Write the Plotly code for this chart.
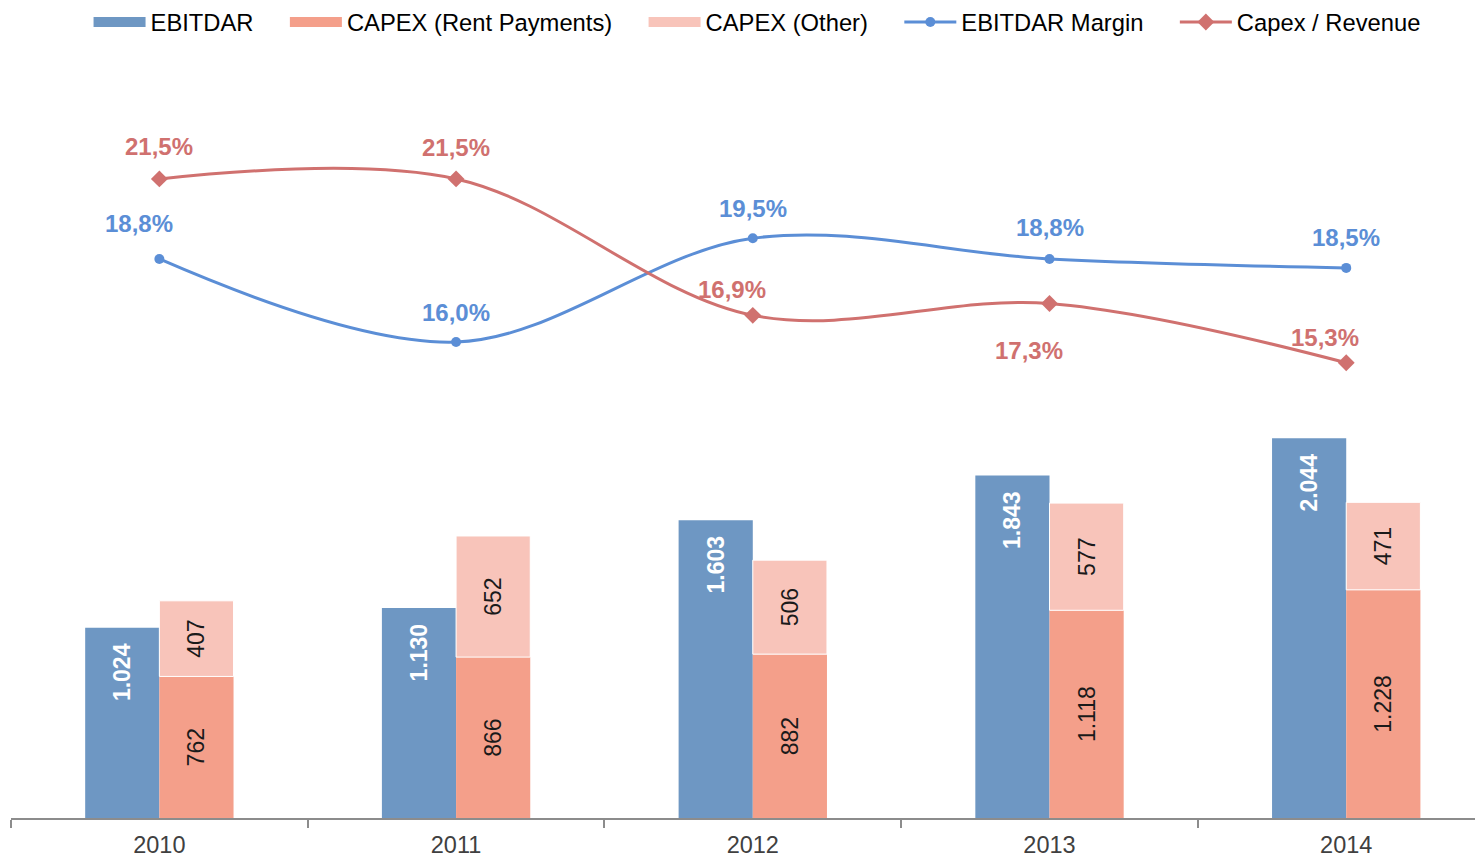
import plotly.graph_objects as go

years = ["2010", "2011", "2012", "2013", "2014"]
ebitdar = [1024, 1130, 1603, 1843, 2044]
capex_rent = [762, 866, 882, 1118, 1228]
capex_other = [407, 652, 506, 577, 471]
ebitdar_margin = [0.188, 0.160, 0.195, 0.188, 0.185]
capex_revenue = [0.215, 0.215, 0.169, 0.173, 0.153]

C_EBITDAR = "#6E97C3"
C_RENT = "#F49F8A"
C_OTHER = "#F8C4BA"
C_MARGIN = "#5B8ED6"
C_CAPREV = "#D0716F"
FONT = "Liberation Sans, Arial, sans-serif"
NB = "\u00a0"


def fmt_int(v):
    return f"{v:,}".replace(",", ".")


def fmt_pct(v):
    return f"{v*100:.1f}%".replace(".", ",")


fig = go.Figure()

fig.add_trace(go.Bar(
    x=years, y=ebitdar, name="EBITDAR", offsetgroup="a",
    marker=dict(color=C_EBITDAR, line=dict(width=0)),
    text=[fmt_int(v) + NB * 2 for v in ebitdar], textposition="inside",
    insidetextanchor="end", textangle=-90,
    textfont=dict(color="white", size=23, family=FONT, weight="bold"),
    constraintext="none", showlegend=False, hoverinfo="skip"))
fig.add_trace(go.Bar(
    x=years, y=capex_rent, name="CAPEX (Rent Payments)", offsetgroup="b",
    marker=dict(color=C_RENT, line=dict(width=0)),
    text=[fmt_int(v) for v in capex_rent], textposition="inside",
    insidetextanchor="middle", textangle=-90,
    textfont=dict(color="#1a1a1a", size=23, family=FONT),
    constraintext="none", showlegend=False, hoverinfo="skip"))
fig.add_trace(go.Bar(
    x=years, y=capex_other, base=capex_rent, name="CAPEX (Other)", offsetgroup="b",
    marker=dict(color=C_OTHER, line=dict(width=1, color="white")),
    text=[fmt_int(v) for v in capex_other], textposition="inside",
    insidetextanchor="middle", textangle=-90,
    textfont=dict(color="#1a1a1a", size=23, family=FONT),
    constraintext="none", showlegend=False, hoverinfo="skip"))

# legend proxies for bars
PAD = NB * 4
for nm, col in [("EBITDAR", C_EBITDAR), ("CAPEX (Rent Payments)", C_RENT),
                ("CAPEX (Other)", C_OTHER)]:
    fig.add_trace(go.Scatter(x=[None], y=[None], mode="lines", name=nm + PAD,
                             line=dict(color=col, width=12), yaxis="y2"))

fig.add_trace(go.Scatter(
    x=years, y=ebitdar_margin, name="EBITDAR Margin" + PAD, yaxis="y2",
    mode="lines+markers", line=dict(color=C_MARGIN, width=3, shape="spline", smoothing=1),
    marker=dict(symbol="circle", size=10, color=C_MARGIN), hoverinfo="skip"))
fig.add_trace(go.Scatter(
    x=years, y=capex_revenue, name="Capex / Revenue", yaxis="y2",
    mode="lines+markers", line=dict(color=C_CAPREV, width=3, shape="spline", smoothing=1),
    marker=dict(symbol="diamond", size=13, color=C_CAPREV), hoverinfo="skip"))

# label offsets (pixels) for percentage labels
margin_dx = [-20, 0, 0, 0, 0]
margin_dy = [35, 30, 30, 31, 30]
caprev_dx = [0, 0, -21, -21, -21]
caprev_dy = [32, 31, 26, -47, 25]

annotations = []
for i, yr in enumerate(years):
    annotations.append(dict(x=i, y=ebitdar_margin[i], yref="y2", xref="x",
                            text=fmt_pct(ebitdar_margin[i]), showarrow=False,
                            xshift=margin_dx[i], yshift=margin_dy[i],
                            font=dict(color=C_MARGIN, size=24, family=FONT, weight="bold")))
    annotations.append(dict(x=i, y=capex_revenue[i], yref="y2", xref="x",
                            text=fmt_pct(capex_revenue[i]), showarrow=False,
                            xshift=caprev_dx[i], yshift=caprev_dy[i],
                            font=dict(color=C_CAPREV, size=24, family=FONT, weight="bold")))

fig.update_layout(
    width=1475, height=858,
    margin=dict(l=11, r=0, t=60, b=40, autoexpand=False),
    plot_bgcolor="white", paper_bgcolor="white",
    barmode="group", bargap=0.5, bargroupgap=0,
    font=dict(family=FONT, size=23.75, color="#000000"),
    showlegend=True,
    legend=dict(orientation="h", x=0.5096, xanchor="center", y=1.05, yanchor="middle",
                font=dict(size=23.75, color="#000000"), itemwidth=52,
                traceorder="normal", bgcolor="rgba(0,0,0,0)"),
    xaxis=dict(type="category", range=[-0.5, 4.434], tickson="boundaries",
               showline=True, linecolor="#8c8c8c", linewidth=1.5,
               ticks="outside", ticklen=8, tickcolor="#8c8c8c", tickwidth=1.5,
               ticklabelstandoff=5, automargin=False,
               showgrid=False, tickfont=dict(size=23.5, color="#404040")),
    yaxis=dict(range=[0, 4080], visible=False, showgrid=False),
    yaxis2=dict(range=[-0.0005, 0.2551], overlaying="y", visible=False, showgrid=False),
    annotations=annotations,
)

fig.write_html("out.html", config={"displayModeBar": False},
               post_script="document.body.style.margin='0';")
